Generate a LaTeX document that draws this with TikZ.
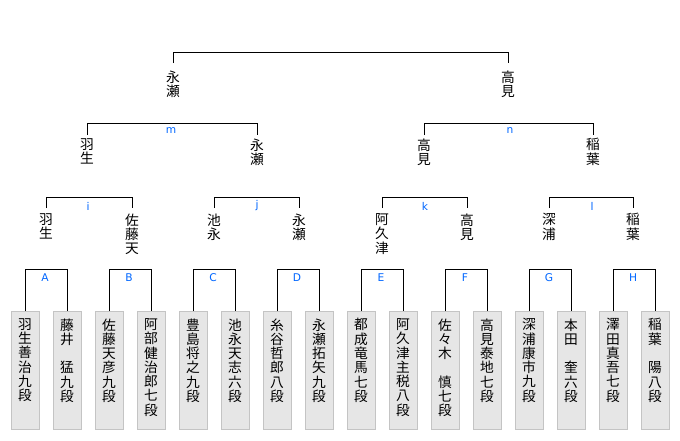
\documentclass[tikz,border=0pt]{standalone}
\usepackage{fontspec}
\newfontfamily\jp{Noto Sans CJK JP}
\newfontfamily\lab{DejaVu Sans}
\definecolor{lblue}{HTML}{0066FF}
\definecolor{boxfill}{HTML}{E6E6E6}
\definecolor{boxline}{HTML}{C4C4C4}
\begin{document}
\begin{tikzpicture}[x=0.75pt,y=-0.75pt,line width=0.75pt,
  vt/.style={font=\jp\fontsize{10.3}{10.7}\selectfont,align=center,inner xsep=0pt,anchor=north},
  lvone/.style={vt,inner ysep=5.25pt},
  lvtwo/.style={vt,inner ysep=2.25pt},
  lvthree/.style={vt,inner ysep=3.75pt},
  pbox/.style={draw=boxline,fill=boxfill,minimum width=21pt,minimum height=88.5pt,inner sep=0pt,anchor=north},
  intext/.style={vt,inner ysep=0pt},
  rlab/.style={font=\lab\fontsize{8}{9}\selectfont,text=lblue,inner sep=0pt}]
\useasboundingbox (0,0) rectangle (680,440);
% players
\foreach \i/\t in {1/{羽\\生\\善\\治\\九\\段},2/{藤\\井\\\phantom{井}\\猛\\九\\段},
  3/{佐\\藤\\天\\彦\\九\\段},4/{阿\\部\\健\\治\\郎\\七\\段},
  5/{豊\\島\\将\\之\\九\\段},6/{池\\永\\天\\志\\六\\段},
  7/{糸\\谷\\哲\\郎\\八\\段},8/{永\\瀬\\拓\\矢\\九\\段},
  9/{都\\成\\竜\\馬\\七\\段},10/{阿\\久\\津\\主\\税\\八\\段},
  11/{佐\\々\\木\\\phantom{木}\\慎\\七\\段},12/{高\\見\\泰\\地\\七\\段},
  13/{深\\浦\\康\\市\\九\\段},14/{本\\田\\\phantom{田}\\奎\\六\\段},
  15/{澤\\田\\真\\吾\\七\\段},16/{稲\\葉\\\phantom{葉}\\陽\\八\\段}}{
  \node[pbox] (p\i) at ({25+42*(\i-1)},311) {};
  \node[intext] (pt\i) at ([yshift=-5.25pt]p\i.north) {\t};
}
% round 1 winners
\node[lvthree] (c1) at (46,208) {羽\\生};
\node[lvthree] (c2) at (132,208) {佐\\藤\\天};
\node[lvthree] (c3) at (214,208) {池\\永};
\node[lvthree] (c4) at (299,208) {永\\瀬};
\node[lvthree] (c5) at (382,208) {阿\\久\\津};
\node[lvthree] (c6) at (467,208) {高\\見};
\node[lvthree] (c7) at (549,208) {深\\浦};
\node[lvthree] (c8) at (633,208) {稲\\葉};
% round 2 winners
\node[lvtwo] (b1) at (87,135) {羽\\生};
\node[lvtwo] (b2) at (257,135) {永\\瀬};
\node[lvtwo] (b3) at (424,135) {高\\見};
\node[lvtwo] (b4) at (593,135) {稲\\葉};
% finalists
\node[lvone] (a1) at (173,63) {永\\瀬};
\node[lvone] (a2) at (508,63) {高\\見};
% brackets
\foreach \i/\j in {1/2,3/4,5/6,7/8,9/10,11/12,13/14,15/16}
  \draw (p\i.north) -- ++(0,-42) -| (p\j.north);
\foreach \i/\j in {1/2,3/4,5/6,7/8}
  \draw (c\i.north) -- ++(0,-11) -| (c\j.north);
\foreach \i/\j in {1/2,3/4}
  \draw (b\i.north) -- ++(0,-12) -| (b\j.north);
\draw (a1.north) -- ++(0,-11) -| (a2.north);
% game labels
\foreach \x/\l [count=\k] in {45/A,129/B,213/C,297/D,381/E,465/F,549/G,633/H}
  \node[rlab] (g\k) at (\x,278) {\l};
\node[rlab] (gi) at (88,206) {i};
\node[rlab] (gj) at (257,206) {j};
\node[rlab] (gk) at (425,206) {k};
\node[rlab] (gl) at (592,206) {l};
\node[rlab] (gm) at (171,131) {m};
\node[rlab] (gn) at (510,131) {n};
\end{tikzpicture}
\end{document}
